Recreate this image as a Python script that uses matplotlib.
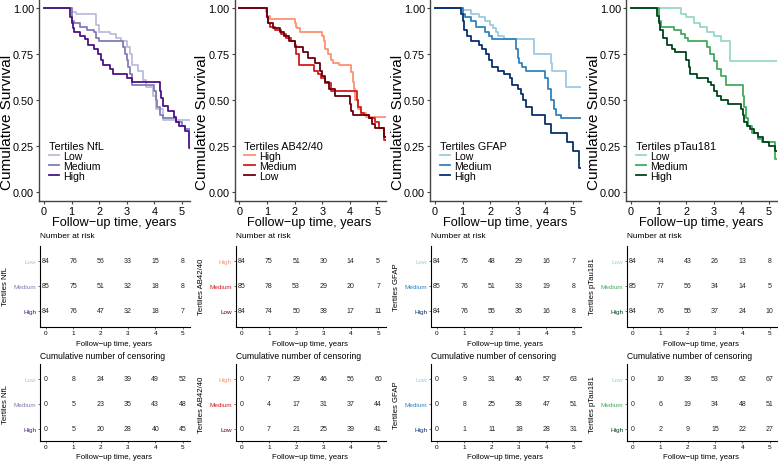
import matplotlib
matplotlib.use('Agg')
import matplotlib.pyplot as plt

plt.rcParams['font.family'] = ['Liberation Sans', 'DejaVu Sans']

W, H = 778, 464

years = [0, 1, 2, 3, 4, 5]

# ---- Kaplan-Meier step curves (time of step, survival after step) ----
nfl_low_t = [0, 1.0, 1.15, 1.9, 2.0, 2.4, 2.6, 2.8, 3.0, 3.1, 3.2, 3.4, 3.6, 3.7, 3.95, 4.07, 4.3]
nfl_low_s = [1, 0.98, 0.97, 0.91, 0.87, 0.86, 0.84, 0.82, 0.79, 0.75, 0.69, 0.66, 0.61, 0.57, 0.52, 0.45, 0.39]
nfl_med_t = [0, 1.02, 1.1, 1.3, 1.55, 1.8, 1.9, 2.0, 2.85, 2.95, 3.0, 3.05, 3.12, 3.2, 4.0, 4.05, 4.1, 4.2, 4.3, 4.8, 5.0, 5.1]
nfl_med_s = [1, 0.93, 0.92, 0.90, 0.88, 0.87, 0.84, 0.82, 0.79, 0.75, 0.72, 0.68, 0.64, 0.58, 0.55, 0.50, 0.46, 0.42, 0.40, 0.38, 0.36, 0.34]
nfl_high_t = [0, 0.95, 1.0, 1.05, 1.1, 1.3, 1.5, 1.6, 1.8, 1.95, 2.05, 2.15, 2.4, 2.5, 3.0, 3.2, 4.2, 4.25, 4.3, 4.5, 4.7, 4.8, 4.9, 5.1, 5.24]
nfl_high_s = [1, 0.95, 0.92, 0.89, 0.87, 0.85, 0.83, 0.80, 0.78, 0.75, 0.72, 0.69, 0.67, 0.64, 0.62, 0.60, 0.55, 0.51, 0.47, 0.44, 0.41, 0.38, 0.36, 0.33, 0.24]

ab_high_t = [0, 0.95, 1.0, 1.1, 2.0, 2.05, 2.1, 2.2, 3.0, 3.05, 3.1, 3.2, 3.3, 3.4, 3.6, 4.05, 4.1, 4.15, 4.2, 4.3, 4.4, 4.6]
ab_high_s = [1, 0.98, 0.96, 0.94, 0.92, 0.90, 0.89, 0.87, 0.85, 0.82, 0.78, 0.75, 0.72, 0.70, 0.69, 0.65, 0.60, 0.56, 0.50, 0.45, 0.43, 0.41]
ab_med_t = [0, 1.0, 1.05, 1.1, 1.3, 1.5, 1.7, 1.85, 2.0, 2.05, 2.15, 2.7, 2.85, 2.95, 3.1, 3.3, 4.25, 4.3, 4.4, 4.5, 4.7, 4.9, 5.05, 5.24]
ab_med_s = [1, 0.95, 0.92, 0.90, 0.88, 0.86, 0.84, 0.82, 0.80, 0.75, 0.69, 0.66, 0.64, 0.62, 0.59, 0.55, 0.50, 0.46, 0.43, 0.42, 0.40, 0.38, 0.35, 0.28]
ab_low_t = [0, 1.0, 1.05, 1.2, 1.45, 1.6, 1.8, 2.0, 2.3, 2.5, 2.75, 2.9, 3.0, 3.1, 3.25, 3.45, 4.0, 4.05, 4.1, 4.7, 4.8, 4.9, 5.24]
ab_low_s = [1, 0.95, 0.92, 0.89, 0.87, 0.85, 0.82, 0.79, 0.76, 0.73, 0.70, 0.66, 0.63, 0.60, 0.56, 0.52, 0.48, 0.44, 0.42, 0.40, 0.37, 0.35, 0.30]

gfap_low_t = [0, 1.0, 1.3, 1.6, 1.8, 2.0, 2.1, 2.2, 2.3, 2.5, 3.6, 4.2, 4.25, 4.75]
gfap_low_s = [1, 0.99, 0.97, 0.95, 0.93, 0.91, 0.89, 0.87, 0.85, 0.83, 0.75, 0.70, 0.66, 0.57]
gfap_med_t = [0, 1.0, 1.1, 1.3, 1.5, 1.8, 1.95, 2.05, 2.95, 3.0, 3.05, 3.15, 3.3, 4.0, 4.1, 4.2, 4.3, 4.4, 4.55]
gfap_med_s = [1, 0.97, 0.95, 0.93, 0.90, 0.87, 0.85, 0.83, 0.78, 0.73, 0.70, 0.68, 0.66, 0.62, 0.56, 0.50, 0.45, 0.42, 0.40]
gfap_high_t = [0, 0.95, 1.0, 1.05, 1.15, 1.3, 1.6, 1.7, 1.85, 1.95, 2.05, 2.3, 2.5, 2.7, 2.8, 3.0, 3.1, 3.2, 3.3, 3.5, 4.0, 4.2, 4.8, 5.0, 5.2]
gfap_high_s = [1, 0.97, 0.93, 0.88, 0.85, 0.82, 0.80, 0.78, 0.75, 0.72, 0.68, 0.66, 0.64, 0.62, 0.58, 0.56, 0.53, 0.50, 0.46, 0.42, 0.37, 0.32, 0.27, 0.22, 0.13]

ptau_low_t = [0, 1.82, 2.0, 2.3, 2.5, 2.75, 3.0, 3.25, 3.6]
ptau_low_s = [1, 0.97, 0.95, 0.92, 0.90, 0.87, 0.85, 0.82, 0.71]
ptau_med_t = [0, 1.0, 1.1, 1.55, 1.8, 1.95, 2.05, 2.75, 2.85, 3.0, 3.1, 3.25, 3.45, 4.05, 4.1, 4.15, 4.25, 4.4, 4.6, 4.75, 5.2]
ptau_med_s = [1, 0.93, 0.90, 0.88, 0.86, 0.84, 0.82, 0.79, 0.75, 0.71, 0.67, 0.63, 0.58, 0.52, 0.46, 0.40, 0.36, 0.32, 0.29, 0.27, 0.18]
ptau_high_t = [0, 0.95, 1.0, 1.05, 1.15, 1.3, 1.5, 1.6, 2.0, 2.1, 2.15, 2.4, 2.8, 2.9, 3.0, 3.1, 3.25, 3.5, 4.0, 4.05, 4.1, 4.2, 4.3, 4.45, 4.6, 4.8, 5.0, 5.2]
ptau_high_s = [1, 0.96, 0.92, 0.88, 0.84, 0.80, 0.78, 0.76, 0.72, 0.68, 0.64, 0.62, 0.60, 0.58, 0.55, 0.52, 0.50, 0.48, 0.45, 0.42, 0.38, 0.36, 0.34, 0.32, 0.30, 0.27, 0.25, 0.22]

# ---- number at risk / cumulative censoring (rows in legend order) ----
nfl_risk = [[84, 76, 56, 33, 15, 8], [85, 75, 51, 32, 18, 8], [84, 76, 47, 32, 18, 7]]
nfl_cens = [[0, 8, 24, 39, 49, 52], [0, 5, 23, 35, 43, 48], [0, 5, 20, 28, 40, 45]]
ab_risk = [[84, 75, 51, 30, 14, 5], [85, 78, 53, 29, 20, 7], [84, 74, 50, 38, 17, 11]]
ab_cens = [[0, 7, 29, 46, 56, 60], [0, 4, 17, 31, 37, 44], [0, 7, 21, 25, 39, 41]]
gfap_risk = [[84, 75, 48, 29, 16, 7], [85, 76, 51, 33, 19, 8], [84, 76, 55, 35, 16, 8]]
gfap_cens = [[0, 9, 31, 46, 57, 63], [0, 8, 25, 38, 47, 51], [0, 1, 11, 18, 28, 31]]
ptau_risk = [[84, 74, 43, 26, 13, 8], [85, 77, 56, 34, 14, 5], [84, 76, 55, 37, 24, 10]]
ptau_cens = [[0, 10, 39, 53, 62, 67], [0, 6, 19, 34, 48, 51], [0, 2, 9, 15, 22, 27]]

panels = [
    ('NfL', ['Low', 'Medium', 'High'], ['#bcbddc', '#807dba', '#4a1486'],
     [(nfl_low_t, nfl_low_s), (nfl_med_t, nfl_med_s), (nfl_high_t, nfl_high_s)], nfl_risk, nfl_cens),
    ('AB42/40', ['High', 'Medium', 'Low'], ['#fc9272', '#d7191c', '#67000d'],
     [(ab_high_t, ab_high_s), (ab_med_t, ab_med_s), (ab_low_t, ab_low_s)], ab_risk, ab_cens),
    ('GFAP', ['Low', 'Medium', 'High'], ['#9ecae1', '#3182bd', '#08306b'],
     [(gfap_low_t, gfap_low_s), (gfap_med_t, gfap_med_s), (gfap_high_t, gfap_high_s)], gfap_risk, gfap_cens),
    ('pTau181', ['Low', 'Medium', 'High'], ['#99d8c9', '#41ab5d', '#00441b'],
     [(ptau_low_t, ptau_low_s), (ptau_med_t, ptau_med_s), (ptau_high_t, ptau_high_s)], ptau_risk, ptau_cens),
]

offsets = [0, 195.5, 391, 587]


def add_px(fig, left, top, width, height):
    return fig.add_axes([left / W, 1 - (top + height) / H, width / W, height / H])


def ptext(fig, x, y, s, **kw):
    return fig.text(x / W, 1 - y / H, s, **kw)


def km_panel(fig, off, name, levels, cols, curves):
    ax = add_px(fig, 39 + off, 0, 151, 202)
    for lev, c, (t, s) in zip(levels, cols, curves):
        ax.step(list(t) + [5.3], list(s) + [s[-1]], where='post', color=c, lw=1.3, label=lev)
    ax.set_xlim(-0.181, 5.29)
    ax.set_ylim(-0.05, 1.05)
    ax.set_xticks(years)
    ax.set_yticks([0, 0.25, 0.5, 0.75, 1.0])
    ax.set_yticklabels(['0.00', '0.25', '0.50', '0.75', '1.00'])
    ax.tick_params(labelsize=7.8, length=2.5, width=0.8, color='#444444', pad=1.2)
    for sp in ['top', 'right']:
        ax.spines[sp].set_visible(False)
    for sp in ['left', 'bottom']:
        ax.spines[sp].set_color('#444444')
        ax.spines[sp].set_linewidth(1.0)
    ax.legend(title='Tertiles ' + name, loc='upper left', bbox_to_anchor=(0.03, 0.325),
              frameon=False, fontsize=7.6, title_fontsize=7.8, handlelength=1.0,
              handletextpad=0.4, labelspacing=0.0, borderpad=0, alignment='left')
    ptext(fig, 114 + off, 223, 'Follow\u2212up time, years', fontsize=9.2, ha='center', va='center')
    ptext(fig, 7 + off, 122, 'Cumulative Survival', fontsize=11, rotation=90, ha='center', va='center')


def table_panel(fig, off, top, height, ylim, name, levels, cols, rows, title, title_size, title_y):
    ax = add_px(fig, 40 + off, top, 150, height)
    for i, vals in enumerate(rows):
        for x, v in zip(years, vals):
            ax.text(x, 3 - i, str(v), ha='center', va='center', fontsize=5, color='#222222')
    ax.set_xlim(-0.22, 5.27)
    ax.set_ylim(*ylim)
    ax.set_xticks(years)
    ax.set_yticks([3, 2, 1])
    ax.set_yticklabels(levels)
    for lab, c in zip(ax.get_yticklabels(), cols):
        lab.set_color(c)
    ax.tick_params(labelsize=4.6, length=1.5, width=0.5, pad=1, color='#333333')
    for sp in ['top', 'right']:
        ax.spines[sp].set_visible(False)
    for sp in ['left', 'bottom']:
        ax.spines[sp].set_linewidth(0.8)
    ptext(fig, 40 + off, title_y, title, fontsize=title_size, ha='left', va='center')
    mid = top + height * (ylim[1] - 2) / (ylim[1] - ylim[0])
    ptext(fig, 6 + off, mid, 'Tertiles ' + name, fontsize=5.6, rotation=90, ha='center', va='center')
    ptext(fig, 114 + off, top + height + 16, 'Follow\u2212up time, years', fontsize=5.6, ha='center', va='center')


fig = plt.figure(figsize=(W / 100, H / 100), dpi=100)
for off, (name, levels, cols, curves, risk, cens) in zip(offsets, panels):
    km_panel(fig, off, name, levels, cols, curves)
    table_panel(fig, off, 247, 81, (0.36, 3.6), name, levels, cols, risk,
                'Number at risk', 6.0, 237)
    table_panel(fig, off, 365, 77, (0.52, 3.6), name, levels, cols, cens,
                'Cumulative number of censoring', 6.2, 357)

fig.savefig('out.png', dpi=100)
